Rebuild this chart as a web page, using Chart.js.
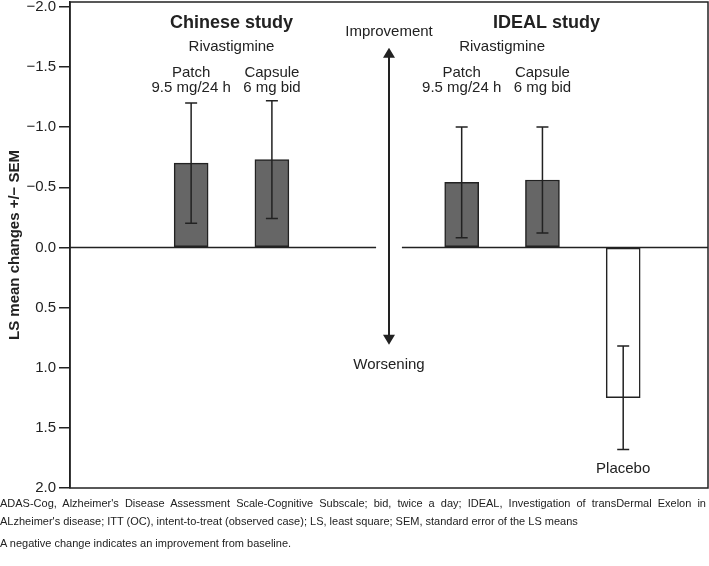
<!DOCTYPE html>
<html>
<head>
<meta charset="utf-8">
<script src="https://cdn.jsdelivr.net/npm/chart.js@4.4.0/dist/chart.umd.min.js"></script>
<style>
  html, body { margin: 0; padding: 0; background: #fff; }
  #wrap { position: relative; width: 709px; height: 566px; }
  #chart { position: absolute; left: 0; top: 0; }
  .notes { position: absolute; left: 0; top: 494px; width: 706px; font: 11px 'Liberation Sans', Arial, sans-serif; color: #222; line-height: 18px; text-align: justify; }
  .notes p { margin: 0; }
  .notes p + p { margin-top: 4px; }
</style>
</head>
<body>
<div id="wrap">
  <canvas id="chart" width="709" height="500" style="width:709px;height:500px"></canvas>
  <div class="notes">
    <p>ADAS-Cog, Alzheimer's Disease Assessment Scale-Cognitive Subscale; bid, twice a day; IDEAL, Investigation of transDermal Exelon in ALzheimer's disease; ITT (OC), intent-to-treat (observed case); LS, least square; SEM, standard error of the LS means</p>
    <p>A negative change indicates an improvement from baseline.</p>
  </div>
</div>
<script>
// ─── DATA ─────────────────────────────────────────────────────────────────────
// bar positions on the x scale (Chinese study: 1.5, 2.5 / IDEAL study: 4.85 .. 6.85)
const ARM_X     = [1.5, 2.5, 4.85, 5.85, 6.85];
const ARM_NAMES = ['Patch 9.5 mg/24 h', 'Capsule 6 mg bid', 'Patch 9.5 mg/24 h', 'Capsule 6 mg bid', 'Placebo'];
const LS_MEANS  = [-0.70, -0.73, -0.54, -0.56, 1.25];
const LS_SEM    = [0.50, 0.49, 0.46, 0.44, 0.43];
const Y_TICKS   = [-2.0, -1.5, -1.0, -0.5, 0.0, 0.5, 1.0, 1.5, 2.0];

// text annotations (x, y in data units)
const STUDIES   = [
  { name: 'Chinese study', x: 2.0, y: -1.825 },
  { name: 'IDEAL study',   x: 5.9, y: -1.825 }
];
const DRUG_LABEL = { text: 'Rivastigmine', y: -1.633 };
const ARM_LINES  = [['Patch', '9.5 mg/24 h'], ['Capsule', '6 mg bid'], ['Patch', '9.5 mg/24 h'], ['Capsule', '6 mg bid']];
const ARM_LINE_Y = [-1.417, -1.292];
const PLACEBO_LABEL = { text: 'Placebo', y: 1.875 };
const ARROW = { x: 3.95, from: -1.66, to: 0.81, topText: 'Improvement', topY: -1.758, botText: 'Worsening', botY: 1.008 };
const ZERO_GAP = [3.79, 4.11];

const FONT = "'Liberation Sans', Arial, sans-serif";
const INK = '#222';

Chart.defaults.font.family = FONT;
Chart.defaults.color = INK;

const fmtTick = v => (v < 0 ? '\u2212' : '') + Math.abs(v).toFixed(1);

// ─── OVERLAY: box, zero line, error bars, arrow, labels ──────────────────────
const overlay = {
  id: 'overlay',
  beforeDatasetsDraw(chart) {
    const { ctx, chartArea: a, scales: { x, y } } = chart;
    const y0 = y.getPixelForValue(0);
    ctx.save();
    ctx.strokeStyle = INK;
    ctx.lineWidth = 1.5;
    ctx.beginPath();
    ctx.moveTo(a.left, y0); ctx.lineTo(x.getPixelForValue(ZERO_GAP[0]), y0);
    ctx.moveTo(x.getPixelForValue(ZERO_GAP[1]), y0); ctx.lineTo(a.right, y0);
    ctx.stroke();
    ctx.restore();
  },
  afterDatasetsDraw(chart) {
    const { ctx, chartArea: a, scales: { x, y } } = chart;
    ctx.save();
    ctx.strokeStyle = INK;
    ctx.fillStyle = INK;

    // plot frame
    ctx.lineWidth = 1.5;
    ctx.strokeRect(a.left, a.top, a.right - a.left, a.bottom - a.top);

    // error bars (mean +/- SEM)
    ctx.lineWidth = 1.5;
    LS_MEANS.forEach((m, i) => {
      const px = x.getPixelForValue(ARM_X[i]);
      const hi = y.getPixelForValue(m - LS_SEM[i]);
      const lo = y.getPixelForValue(m + LS_SEM[i]);
      ctx.beginPath();
      ctx.moveTo(px, hi); ctx.lineTo(px, lo);
      ctx.moveTo(px - 6, hi); ctx.lineTo(px + 6, hi);
      ctx.moveTo(px - 6, lo); ctx.lineTo(px + 6, lo);
      ctx.stroke();
    });

    // improvement / worsening arrow
    const ax = x.getPixelForValue(ARROW.x);
    const aTop = y.getPixelForValue(ARROW.from);
    const aBot = y.getPixelForValue(ARROW.to);
    ctx.lineWidth = 2;
    ctx.beginPath();
    ctx.moveTo(ax, aTop + 8); ctx.lineTo(ax, aBot - 8);
    ctx.stroke();
    ctx.beginPath();
    ctx.moveTo(ax, aTop); ctx.lineTo(ax - 6, aTop + 10); ctx.lineTo(ax + 6, aTop + 10); ctx.closePath();
    ctx.moveTo(ax, aBot); ctx.lineTo(ax - 6, aBot - 10); ctx.lineTo(ax + 6, aBot - 10); ctx.closePath();
    ctx.fill();

    // texts
    ctx.textAlign = 'center';
    ctx.textBaseline = 'alphabetic';
    ctx.font = `15px ${FONT}`;
    ctx.fillText(ARROW.topText, ax, y.getPixelForValue(ARROW.topY));
    ctx.fillText(ARROW.botText, ax, y.getPixelForValue(ARROW.botY));

    ctx.font = `bold 18px ${FONT}`;
    STUDIES.forEach(s => ctx.fillText(s.name, x.getPixelForValue(s.x), y.getPixelForValue(s.y)));

    ctx.font = `15px ${FONT}`;
    [[0, 1], [2, 3]].forEach(([a0, a1]) => {
      const cx = (x.getPixelForValue(ARM_X[a0]) + x.getPixelForValue(ARM_X[a1])) / 2;
      ctx.fillText(DRUG_LABEL.text, cx, y.getPixelForValue(DRUG_LABEL.y));
    });
    ARM_LINES.forEach((lines, i) => {
      const px = x.getPixelForValue(ARM_X[i]);
      lines.forEach((t, k) => ctx.fillText(t, px, y.getPixelForValue(ARM_LINE_Y[k])));
    });
    ctx.fillText(PLACEBO_LABEL.text, x.getPixelForValue(ARM_X[4]), y.getPixelForValue(PLACEBO_LABEL.y));
    ctx.restore();
  }
};

// ─── CHART ────────────────────────────────────────────────────────────────────
new Chart(document.getElementById('chart'), {
  type: 'bar',
  data: {
    datasets: [{
      label: 'LS mean change',
      data: ARM_X.map((xv, i) => ({ x: xv, y: LS_MEANS[i] })),
      backgroundColor: LS_MEANS.map((v, i) => i === 4 ? '#ffffff' : '#666666'),
      borderColor: INK,
      borderWidth: 1.5,
      borderSkipped: false,
      barThickness: 34
    }]
  },
  options: {
    responsive: false,
    animation: false,
    devicePixelRatio: 1,
    layout: { padding: { top: 2, right: 1, bottom: 12, left: 0 } },
    plugins: { legend: { display: false }, tooltip: { enabled: false } },
    scales: {
      x: { type: 'linear', min: 0, max: 7.9, offset: false, display: false },
      y: {
        reverse: true,
        min: -2.04,
        max: 2.0,
        afterBuildTicks: s => { s.ticks = Y_TICKS.map(v => ({ value: v })); },
        afterFit: s => { s.width = 70; s.paddingTop = 0; s.paddingBottom = 0; },
        grid: { drawOnChartArea: false, drawTicks: true, tickLength: 11, color: INK, lineWidth: 1.5 },
        border: { display: true, color: INK, width: 1.5 },
        ticks: { callback: v => fmtTick(v), font: { size: 15 }, color: INK, padding: 3 },
        title: { display: true, text: 'LS mean changes +/\u2212 SEM', font: { size: 15, weight: 'bold' }, color: INK, padding: { top: 6, bottom: 0 } }
      }
    }
  },
  plugins: [overlay]
});
</script>
</body>
</html>
